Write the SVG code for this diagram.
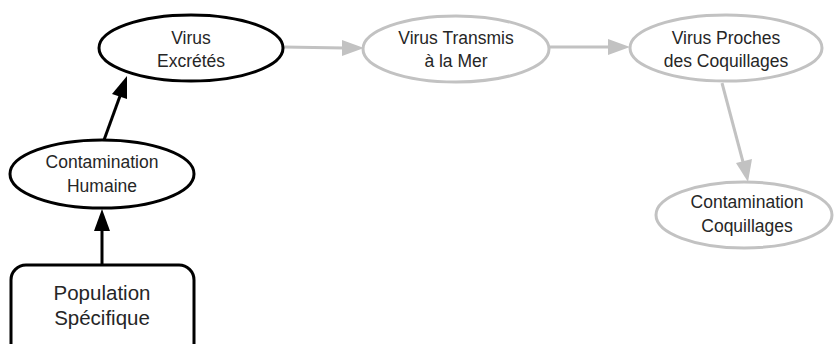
<svg xmlns="http://www.w3.org/2000/svg" width="834" height="344" viewBox="0 0 834 344">
<defs>
<style>
.blk{fill:#fff;stroke:#000;stroke-width:3}
.gry{fill:#fff;stroke:#c2c2c2;stroke-width:3}
text{font-family:"Liberation Sans",Arial,sans-serif;font-size:17.5px;fill:#262626;text-anchor:middle}
.big{font-size:20.5px}
.cb{stroke:#000;stroke-width:3;fill:none}
.cg{stroke:#c2c2c2;stroke-width:3;fill:none}
</style>
</defs>
<g id="connectors">
<line class="cb" x1="102" y1="265" x2="102" y2="230"/>
<polygon points="102,209 94,231 110,231" fill="#000"/>
<line class="cb" x1="104" y1="140" x2="120" y2="96"/>
<polygon points="127,76 112,94 127,99" fill="#000"/>
<line class="cg" x1="283" y1="47" x2="344" y2="48"/>
<polygon points="364,48 342,40 342,56" fill="#c2c2c2"/>
<line class="cg" x1="550" y1="47" x2="610" y2="47"/>
<polygon points="630,47 608,39 608,55" fill="#c2c2c2"/>
<line class="cg" x1="722" y1="83" x2="743" y2="162"/>
<polygon points="748,182 736,163 752,159" fill="#c2c2c2"/>
</g>
<g id="virus-excretes">
<ellipse class="blk" cx="191" cy="48" rx="92" ry="33"/>
<text x="191" y="44">Virus</text>
<text x="191" y="67">Excrétés</text>
</g>
<g id="virus-transmis">
<ellipse class="gry" cx="456" cy="49" rx="93" ry="33"/>
<text x="456" y="44">Virus Transmis</text>
<text x="456" y="67">à la Mer</text>
</g>
<g id="virus-proches">
<ellipse class="gry" cx="726" cy="48" rx="96" ry="33"/>
<text x="726" y="44">Virus Proches</text>
<text x="726" y="67">des Coquillages</text>
</g>
<g id="contamination-coquillages">
<ellipse class="gry" cx="744" cy="215" rx="88" ry="33"/>
<text x="747" y="208">Contamination</text>
<text x="747" y="232">Coquillages</text>
</g>
<g id="contamination-humaine">
<ellipse class="blk" cx="102" cy="174" rx="92" ry="34"/>
<text x="102" y="168">Contamination</text>
<text x="102" y="192">Humaine</text>
</g>
<g id="population-specifique">
<rect class="blk" x="11" y="265" width="183" height="95" rx="15"/>
<text class="big" x="102" y="300">Population</text>
<text class="big" x="102" y="325">Spécifique</text>
</g>
</svg>
